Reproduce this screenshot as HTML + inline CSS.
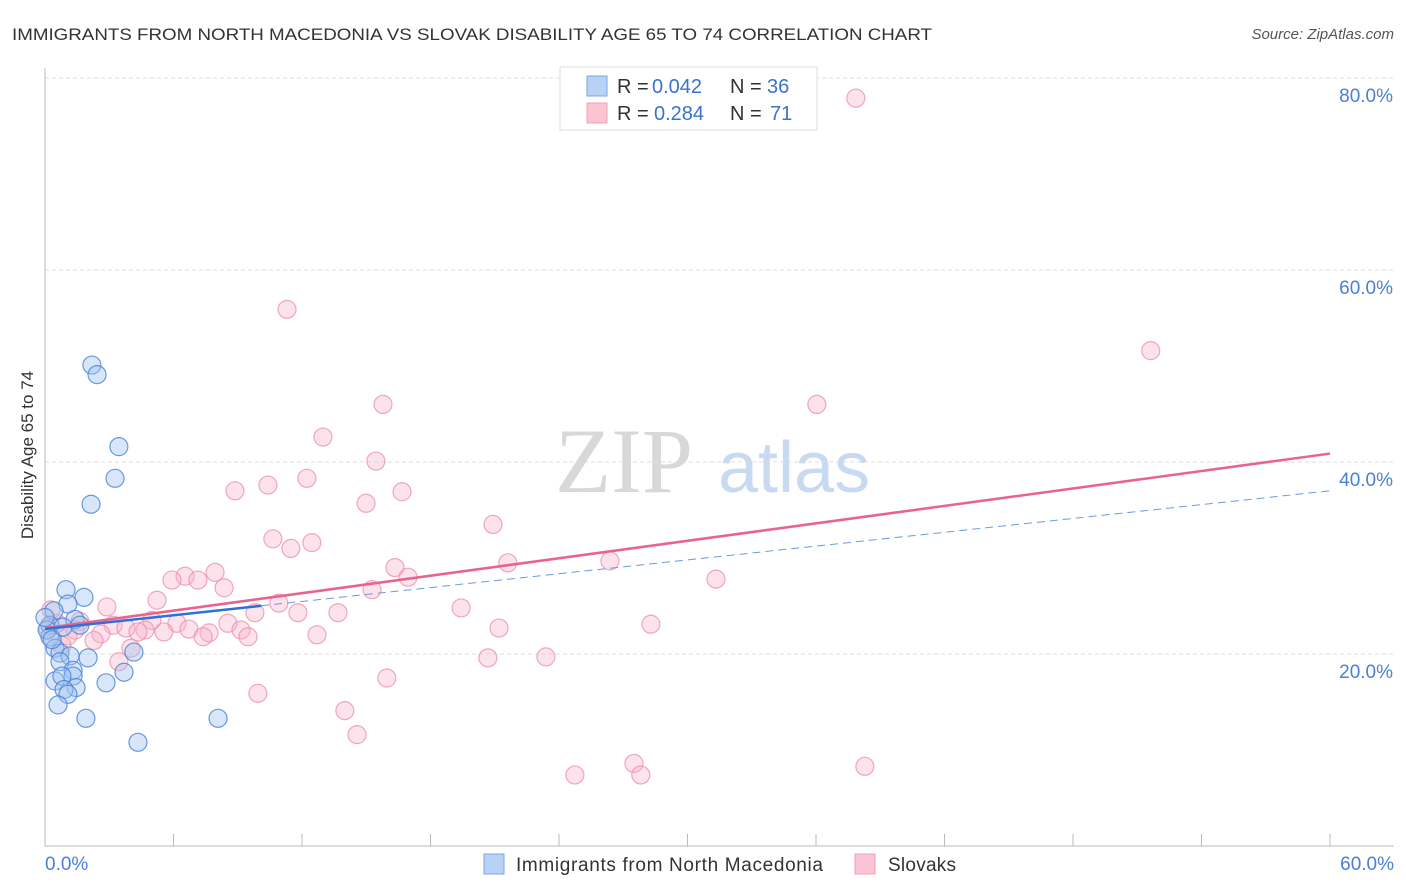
<!DOCTYPE html>
<html><head><meta charset="utf-8"><style>
body{margin:0;background:#fff;font-family:"Liberation Sans",sans-serif}
svg{display:block}
</style></head><body>
<svg id="chart" width="1406" height="892">
<text x="12" y="40" font-size="17" fill="#333" textLength="920" lengthAdjust="spacingAndGlyphs">IMMIGRANTS FROM NORTH MACEDONIA VS SLOVAK DISABILITY AGE 65 TO 74 CORRELATION CHART</text>
<text x="1394" y="39" font-size="15" fill="#555" font-style="italic" text-anchor="end">Source: ZipAtlas.com</text>
<text x="555" y="492" font-size="92" fill="#d8d8d8" font-family="Liberation Serif,serif">ZIP</text>
<text x="718" y="492" font-size="72" fill="#c8daf2">atlas</text>
<g id="grid"></g>
<g id="axes"></g>
<g id="marks"></g>
<text transform="translate(33,455) rotate(-90)" font-size="17" fill="#333" text-anchor="middle">Disability Age 65 to 74</text>
<text x="45" y="870" font-size="19" fill="#4a7fd6">0.0%</text>
<text x="1394" y="870" font-size="19" fill="#4a7fd6" text-anchor="end">60.0%</text>
<g>
<rect x="560" y="67" width="257" height="63" fill="#fff" stroke="#ddd"/>
<rect x="587" y="76" width="20" height="20" fill="#b8d2f5" stroke="#7aa6e0"/>
<rect x="587" y="103" width="20" height="20" fill="#fac4d3" stroke="#f0a0b8"/>
<text x="617" y="93" font-size="20" fill="#333">R = </text>
<text x="652" y="93" font-size="20" fill="#3a72d0">0.042</text>
<text x="730" y="93" font-size="20" fill="#333">N = </text>
<text x="767" y="93" font-size="20" fill="#3a72d0">36</text>
<text x="617" y="120" font-size="20" fill="#333">R = </text>
<text x="654" y="120" font-size="20" fill="#3a72d0">0.284</text>
<text x="730" y="120" font-size="20" fill="#333">N = </text>
<text x="770" y="120" font-size="20" fill="#3a72d0">71</text>
</g>
<g>
<rect x="484" y="854" width="20" height="20" fill="#b8d2f5" stroke="#7aa6e0"/>
<text x="516" y="871" font-size="19" fill="#333" textLength="307">Immigrants from North Macedonia</text>
<rect x="855" y="854" width="20" height="20" fill="#fac4d3" stroke="#f0a0b8"/>
<text x="888" y="871" font-size="19" fill="#333" textLength="68">Slovaks</text>
</g>
</svg>
<script>
const yTicks=[20,40,60,80];
const yTickLabels=["20.0%","40.0%","60.0%","80.0%"];
const xTicks=[6,12,18,24,30,36,42,48,54,60];
const blueX=[2.19,2.43,3.45,3.27,2.15,0.98,1.82,1.07,0.42,1.40,0.23,0.23,0.47,0.70,1.17,2.01,0.70,4.15,3.69,1.31,1.31,0.47,0.79,2.85,1.45,0.89,1.07,0.61,1.91,8.08,4.34,0.10,0.33,0.84,1.63,0.0];
const blueY=[50.1,49.1,41.6,38.3,35.6,26.7,25.9,25.2,24.5,23.6,23.0,21.8,20.6,20.1,19.8,19.6,19.2,20.2,18.1,18.3,17.7,17.2,17.7,17.0,16.5,16.3,15.8,14.7,13.3,13.3,10.8,22.5,21.5,22.8,23.0,23.8];
const pinkX=[37.86,11.30,51.63,15.78,36.04,12.98,15.45,12.23,10.41,8.87,16.67,14.99,20.92,10.64,12.46,11.48,21.61,26.38,16.34,16.95,7.94,6.54,5.93,7.14,8.36,31.33,15.27,5.23,10.92,2.89,19.43,9.80,11.81,13.68,4.99,6.16,8.54,28.29,1.63,3.18,3.78,4.67,6.72,4.34,5.55,9.15,21.20,7.66,2.61,7.38,9.48,12.70,1.07,2.29,0.28,0.56,0.79,4.01,3.45,20.68,23.39,15.96,9.94,14.0,14.57,24.74,27.5,27.82,38.28,0.14,1.4];
const pinkY=[77.9,55.9,51.6,46.0,46.0,42.6,40.1,38.3,37.6,37.0,36.9,35.7,33.5,32.0,31.6,31.0,29.5,29.7,29.0,28.0,28.5,28.1,27.7,27.7,26.9,27.8,26.7,25.6,25.3,24.9,24.8,24.3,24.3,24.3,23.5,23.2,23.2,23.1,23.4,23.0,22.7,22.5,22.6,22.3,22.3,22.5,22.7,22.2,22.1,21.8,21.8,22.0,21.9,21.4,24.6,23.2,20.9,20.6,19.2,19.6,19.7,17.5,15.9,14.1,11.6,7.4,8.6,7.4,8.3,22.7,22.5];
const blueFit=[22.6,0.24];
const pinkFit=[22.7,0.303];
const NS="http://www.w3.org/2000/svg";
const X=v=>45+v*(1285/60);
const Y=v=>846-v*9.6;
function mk(t,a,p){const e=document.createElementNS(NS,t);for(const k in a)e.setAttribute(k,a[k]);document.getElementById(p).appendChild(e);return e;}
yTicks.forEach((t,i)=>{
 const l=mk('line',{x1:45,x2:1394,y1:Y(t),y2:Y(t),stroke:'#ddd','stroke-dasharray':'4,3'},'grid');
 
 
 const tx=mk('text',{x:1393,y:Y(t)+24,'font-size':19,fill:'#4a7fd6','text-anchor':'end'},'grid');
 tx.textContent=yTickLabels[i];
 
 
});
let a=mk('line',{x1:45,x2:45,y1:68,y2:846,stroke:'#bbb'},'axes');


a=mk('line',{x1:45,x2:1394,y1:846,y2:846,stroke:'#bbb'},'axes');


xTicks.forEach(t=>{const l=mk('line',{x1:X(t),x2:X(t),y1:846,y2:834,stroke:'#bbb'},'axes');
 
 });
function pts(xs,ys,fill,stroke,name){xs.forEach((x,i)=>{const c=mk('circle',{cx:X(x),cy:Y(ys[i]),r:9,fill:fill,stroke:stroke,'stroke-width':1.2},'marks');
 
 });}
pts(pinkX,pinkY,'rgba(248,180,200,0.38)','rgba(235,140,170,0.75)','slovak-point');
pts(blueX,blueY,'rgba(160,195,240,0.42)','rgba(70,130,215,0.8)','macedonia-point');
let l=mk('line',{x1:X(10.1),y1:Y(blueFit[0]+blueFit[1]*10.1),x2:X(60),y2:Y(blueFit[0]+blueFit[1]*60),stroke:'#6b9ae0','stroke-width':1,'stroke-dasharray':'8,5'},'marks');


l=mk('line',{x1:X(0),y1:Y(pinkFit[0]),x2:X(60),y2:Y(pinkFit[0]+pinkFit[1]*60),stroke:'#e8648f','stroke-width':2.5},'marks');


l=mk('line',{x1:X(0),y1:Y(blueFit[0]),x2:X(10.1),y2:Y(blueFit[0]+blueFit[1]*10.1),stroke:'#2f6fd6','stroke-width':2.5},'marks');


</script>
</body></html>
